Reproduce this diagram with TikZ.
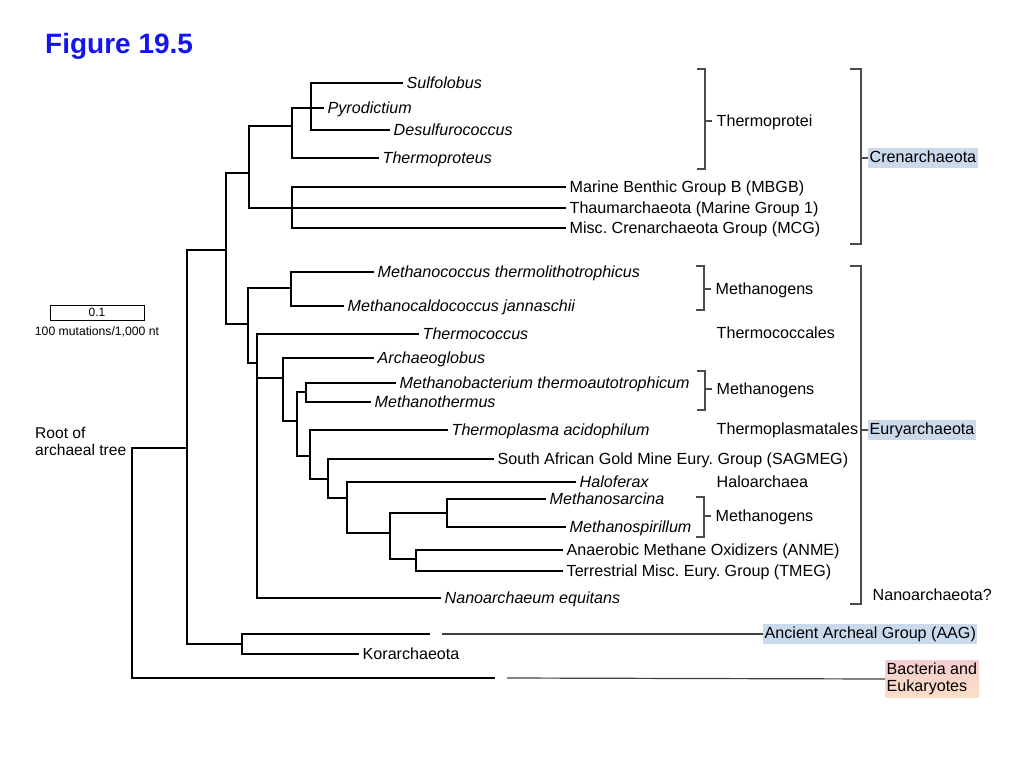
\documentclass[tikz,border=0pt]{standalone}
\usepackage{fontspec}
\setmainfont{Liberation Sans}
\definecolor{hlblue}{RGB}{203,217,237}
\definecolor{bactpink}{RGB}{246,205,210}
\definecolor{bactpeach}{RGB}{251,223,196}
\definecolor{titleblue}{RGB}{20,20,240}
\frenchspacing
\begin{document}
\begin{tikzpicture}[x=1pt,y=-1pt,
	branch/.style={draw=black, line width=2.4pt, line cap=rect},
	guide/.style={draw=black!75, line width=1.2pt},
	bracket/.style={draw=black!70, line width=1.4pt},
	taxon/.style={anchor=west, inner xsep=4.5pt, inner ysep=0pt, text height=11.6pt, text depth=0pt, font=\fontsize{16.1}{19}\selectfont},
	species/.style={taxon, font=\fontsize{16.1}{19}\selectfont\itshape},
	highlight/.style={taxon, inner xsep=1.5pt, inner ysep=2pt, text depth=3.5pt, fill=hlblue}]
	\useasboundingbox (0,0) rectangle (1024,768);

	\node[anchor=base west, inner sep=0pt, text=titleblue, font=\fontsize{28}{34}\selectfont\bfseries] (title) at (45,53) {Figure 19.5};

	% scale bar and root
	\node[draw, line width=0.9pt, minimum width=94pt, minimum height=15pt, inner sep=0pt, font=\fontsize{12}{14}\selectfont] (scale) at (97,312.5) {0.1};
	\node[inner sep=0pt, text height=8.6pt, text depth=0pt, font=\fontsize{12.2}{14}\selectfont] (scaletext) at (97,331) {100 mutations/1,000 nt};
	\node[anchor=north west, align=left, inner sep=0pt, font=\fontsize{15.6}{17}\selectfont] (rootlbl) at (35,427) {Root of\\archaeal tree};

	% leaves
	\node[species] (sulf) at (402,83) {Sulfolobus};
	\node[species] (pyro) at (323,108) {Pyrodictium};
	\node[species] (desulf) at (389,130) {Desulfurococcus};
	\node[species] (tprot) at (378,158) {Thermoproteus};
	\node[taxon] (mbgb) at (565,187) {Marine Benthic Group B (MBGB)};
	\node[taxon] (thaum) at (565,208) {Thaumarchaeota (Marine Group 1)};
	\node[taxon] (mcg) at (565,228) {Misc. Crenarchaeota Group (MCG)};
	\node[species] (mcoc) at (373,272) {Methanococcus thermolithotrophicus};
	\node[species] (mcal) at (343,306) {Methanocaldococcus jannaschii};
	\node[species] (tcoc) at (418,334) {Thermococcus};
	\node[species] (aglob) at (373,358) {Archaeoglobus};
	\node[species] (mbac) at (395,383) {Methanobacterium thermoautotrophicum};
	\node[species] (mth) at (370,402) {Methanothermus};
	\node[species] (tpla) at (447,430) {Thermoplasma acidophilum};
	\node[taxon] (sag) at (493,459) {South African Gold Mine Eury. Group (SAGMEG)};
	\node[species] (halo) at (575,482) {Haloferax};
	\node[species] (msar) at (545,499) {Methanosarcina};
	\node[species] (mspi) at (565,527) {Methanospirillum};
	\node[taxon] (anme) at (562,550) {Anaerobic Methane Oxidizers (ANME)};
	\node[taxon] (tmeg) at (562,571) {Terrestrial Misc. Eury. Group (TMEG)};
	\node[species] (nano) at (440,598) {Nanoarchaeum equitans};
	\node[taxon] (kor) at (358,654) {Korarchaeota};

	% internal nodes
	\coordinate (root) at (132,448);
	\coordinate (nA) at (187,448);
	\coordinate (nB) at (226,250);
	\coordinate (nC) at (249,173);
	\coordinate (nC1) at (292,126);
	\coordinate (nS) at (311,108);
	\coordinate (nC2) at (292,208);
	\coordinate (nE) at (248,324);
	\coordinate (nM) at (291,288);
	\coordinate (nF) at (257,363);
	\coordinate (nG) at (283,378);
	\coordinate (nH) at (297,421);
	\coordinate (nI) at (306,392);
	\coordinate (nJ) at (310,456);
	\coordinate (nL) at (328,479);
	\coordinate (nN) at (347,498);
	\coordinate (nP) at (390,533);
	\coordinate (nQ) at (447,513);
	\coordinate (nT) at (416,559);
	\coordinate (nK) at (242,644);
	\coordinate (aagEnd) at (429,634);
	\coordinate (aagGap) at (442,634);
	\coordinate (bactEnd) at (494,678);
	\coordinate (bactGap) at (507,678);

	\draw[branch] (root) |- (nA) (root) |- (bactEnd);
	\draw[branch] (nA) |- (nB) (nA) |- (nK);
	\draw[branch] (nB) |- (nC) (nB) |- (nE);
	\draw[branch] (nC) |- (nC1) (nC) |- (thaum.west) (nC2) |- (mbgb.west) (nC2) |- (mcg.west);
	\draw[branch] (nC1) |- (pyro.west) (nC1) |- (tprot.west) (nS) |- (sulf.west) (nS) |- (desulf.west);
	\draw[branch] (nE) |- (nM) (nE) |- (nF);
	\draw[branch] (nM) |- (mcoc.west) (nM) |- (mcal.west);
	\draw[branch] (nF) |- (tcoc.west) (nF) |- (nG) (nF) |- (nano.west);
	\draw[branch] (nG) |- (aglob.west) (nG) |- (nH);
	\draw[branch] (nH) |- (nI) (nH) |- (nJ);
	\draw[branch] (nI) |- (mbac.west) (nI) |- (mth.west);
	\draw[branch] (nJ) |- (tpla.west) (nJ) |- (nL);
	\draw[branch] (nL) |- (sag.west) (nL) |- (nN);
	\draw[branch] (nN) |- (halo.west) (nN) |- (nP);
	\draw[branch] (nP) |- (nQ) (nP) |- (nT);
	\draw[branch] (nQ) |- (msar.west) (nQ) |- (mspi.west);
	\draw[branch] (nT) |- (anme.west) (nT) |- (tmeg.west);
	\draw[branch] (nK) |- (aagEnd) (nK) |- (kor.west);

	% groups
	\node[taxon] (thermoprotei) at (712,121) {Thermoprotei};
	\node[highlight] (cren) at (868,158) {Crenarchaeota};
	\node[taxon] (methA) at (711,289) {Methanogens};
	\node[taxon] (tcocales) at (712,333) {Thermococcales};
	\node[taxon] (methB) at (712,389) {Methanogens};
	\node[taxon] (tplales) at (712,429) {Thermoplasmatales};
	\node[highlight] (eury) at (868,430) {Euryarchaeota};
	\node[taxon] (haloarch) at (712,482) {Haloarchaea};
	\node[taxon] (methC) at (711,516) {Methanogens};
	\node[taxon] (nanoarch) at (868,595) {Nanoarchaeota?};
	\node[highlight] (aag) at (763,634) {Ancient Archeal Group (AAG)};
	\node[anchor=west, align=left, inner xsep=1.5pt, inner ysep=2.5pt, top color=bactpink, bottom color=bactpeach, font=\fontsize{16.1}{17}\selectfont] (bact) at (885,679) {Bacteria and\\Eukaryotes};

	\draw[bracket] (697,69) -| (705,169) -- (697,169) (705,121) -- (thermoprotei.west);
	\draw[bracket] (850,69) -| (861,244) -- (850,244) (861,158) -- (cren.west);
	\draw[bracket] (696,266) -| (704,310) -- (696,310) (704,289) -- (methA.west);
	\draw[bracket] (697,371) -| (705,410) -- (697,410) (705,389) -- (methB.west);
	\draw[bracket] (850,266) -| (861,604) -- (850,604) (861,430) -- (eury.west);
	\draw[bracket] (696,497) -| (704,537) -- (696,537) (704,516) -- (methC.west);
	\draw[guide] (aagGap) -- (aag.west);
	\draw[guide] (bactGap) -- (bact.west);
\end{tikzpicture}
\end{document}
